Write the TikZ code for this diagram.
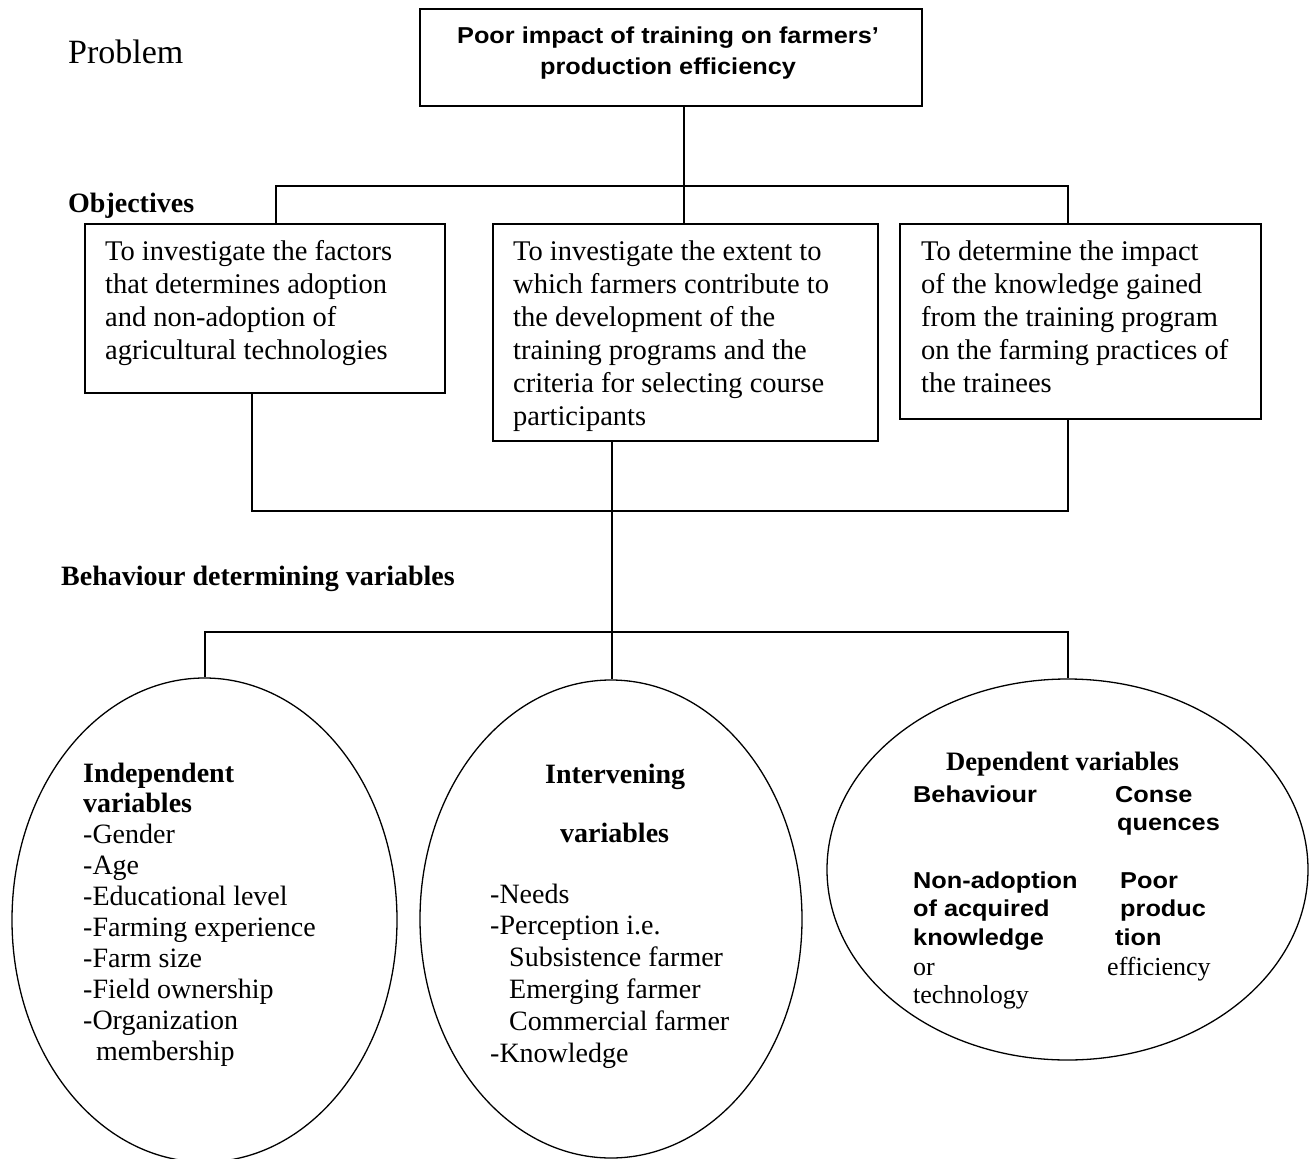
\documentclass[tikz,border=0pt]{standalone}
\usepackage{fontspec}
\setmainfont{Liberation Serif}
\newfontfamily\arialf[FakeStretch=1.1]{Liberation Sans}
\usetikzlibrary{shapes.geometric}
\newcommand{\LL}[1]{\hbox{#1}}
\newcommand{\CL}[1]{\hbox to 0pt{\hss #1\hss}}
\begin{document}
\begin{tikzpicture}[x=1pt,y=-1pt,
  objbox/.style={draw, line width=2pt, rectangle, anchor=north west, inner sep=0pt},
  oval/.style={draw, ellipse, line width=1.3pt, inner sep=0pt},
  conn/.style={line width=2pt},
  lbl/.style={anchor=base west, inner sep=0pt},
  boxfont/.style={font=\fontsize{28.5}{33}\selectfont},
  ovalfont/.style={font=\fontsize{28}{30.9}\selectfont},
  sansfont/.style={font=\arialf\bfseries\fontsize{23}{28.5}\selectfont},
  headfont/.style={font=\bfseries\fontsize{28}{32}\selectfont},
]
\useasboundingbox (0,0) rectangle (1310,1159);
\fill[white] (0,0) rectangle (1310,1159);

% labels
\node[lbl, font=\fontsize{34}{40}\selectfont] (probl) at (68,63) {Problem};
\node[lbl, headfont] (objl) at (68,212) {Objectives};
\node[lbl, headfont] (bdvl) at (61,585) {Behaviour determining variables};

% problem box
\node[objbox, minimum width=502, minimum height=97] (prob) at (419,8) {};
\node[sansfont, anchor=base, inner sep=0pt] (probt) at (668,43)
  {\vtop{\baselineskip=32pt \CL{Poor impact of training on farmers’}\CL{production efficiency}}};

% objective boxes
\node[objbox, minimum width=360, minimum height=169] (o1) at (84,223) {};
\node[lbl, boxfont] (o1t) at (105,260) {\vtop{\baselineskip=33.3pt
  \LL{To investigate the factors}\LL{that determines adoption}\LL{and non-adoption of}\LL{agricultural technologies}}};

\node[objbox, minimum width=385, minimum height=217] (o2) at (492,223) {};
\node[lbl, boxfont] (o2t) at (513,260) {\vtop{\baselineskip=33pt
  \LL{To investigate the extent to}\LL{which farmers contribute to}\LL{the development of the}\LL{training programs and the}\LL{criteria for selecting course}\LL{participants}}};

\node[objbox, minimum width=361, minimum height=195] (o3) at (899,223) {};
\node[lbl, boxfont] (o3t) at (921,260) {\vtop{\baselineskip=33pt
  \LL{To determine the impact}\LL{of the knowledge gained}\LL{from the training program}\LL{on the farming practices of}\LL{the trainees}}};

% ellipses
\node[oval, minimum width=385, minimum height=484] (indep) at (204.5,920) {};
\node[oval, minimum width=382, minimum height=478] (interv) at (611,919) {};
\node[oval, minimum width=481, minimum height=381] (depen) at (1067.5,869.5) {};

% connectors
\coordinate (a1) at (276,186);
\coordinate (a2) at (684,186);
\coordinate (a3) at (1068,186);
\draw[conn] (prob.south -| a2) -- (a2);
\draw[conn] (o1.north -| a1) -- (a1) -- (a3) -- (o3.north -| a3);
\draw[conn] (a2) -- (o2.north -| a2);
\coordinate (b1) at (252,511);
\coordinate (b2) at (612,511);
\coordinate (b3) at (1068,511);
\draw[conn] (o1.south -| b1) -- (b1) -- (b3) -- (o3.south -| b3);
\coordinate (c1) at (204.5,632);
\coordinate (c2) at (612,632);
\coordinate (c3) at (1067.5,632);
\draw[conn] (o2.south -| b2) -- (c2) -- (interv.north -| c2);
\draw[conn] (indep.north -| c1) -- (c1) -- (c3) -- (depen.north -| c3);

% independent variables
\node[lbl, ovalfont] (indept) at (83,782) {\vtop{
  \LL{\bfseries Independent}\LL{\bfseries variables}\LL{-Gender}\LL{-Age}\LL{-Educational level}\LL{-Farming experience}\LL{-Farm size}\LL{-Field ownership}\LL{-Organization}\LL{\kern13pt membership}}};

% intervening variables
\node[lbl, ovalfont] (intt1) at (545,783) {\bfseries Intervening};
\node[lbl, ovalfont] (intt2) at (560,842) {\bfseries variables};
\node[lbl, ovalfont] (intt3) at (490,903) {\vtop{\baselineskip=31.8pt
  \LL{-Needs}\LL{-Perception i.e.}\LL{\kern19pt Subsistence farmer}\LL{\kern19pt Emerging farmer}\LL{\kern19pt Commercial farmer}\LL{-Knowledge}}};

% dependent variables
\node[lbl, font=\bfseries\fontsize{26.6}{30}\selectfont] (dvt) at (946,770) {Dependent variables};
\node[lbl, sansfont] (behav) at (913,802) {Behaviour};
\node[lbl, sansfont] (conse) at (1115,802) {\vtop{\baselineskip=28.5pt \LL{Conse}\LL{\kern2pt quences}}};
\node[lbl, sansfont] (nonad) at (913,888) {\vtop{\baselineskip=28.5pt \LL{Non-adoption}\LL{of acquired}\LL{knowledge}}};
\node[lbl, sansfont] (poor) at (1115,888) {\vtop{\baselineskip=28.5pt \LL{\kern5pt Poor}\LL{\kern5pt produc}\LL{tion}}};
\node[lbl, font=\fontsize{26}{28}\selectfont] (ortech) at (913,975) {\vtop{\baselineskip=28pt \LL{or}\LL{technology}}};
\node[lbl, font=\fontsize{26}{28}\selectfont] (eff) at (1107,975) {efficiency};
\end{tikzpicture}
\end{document}
